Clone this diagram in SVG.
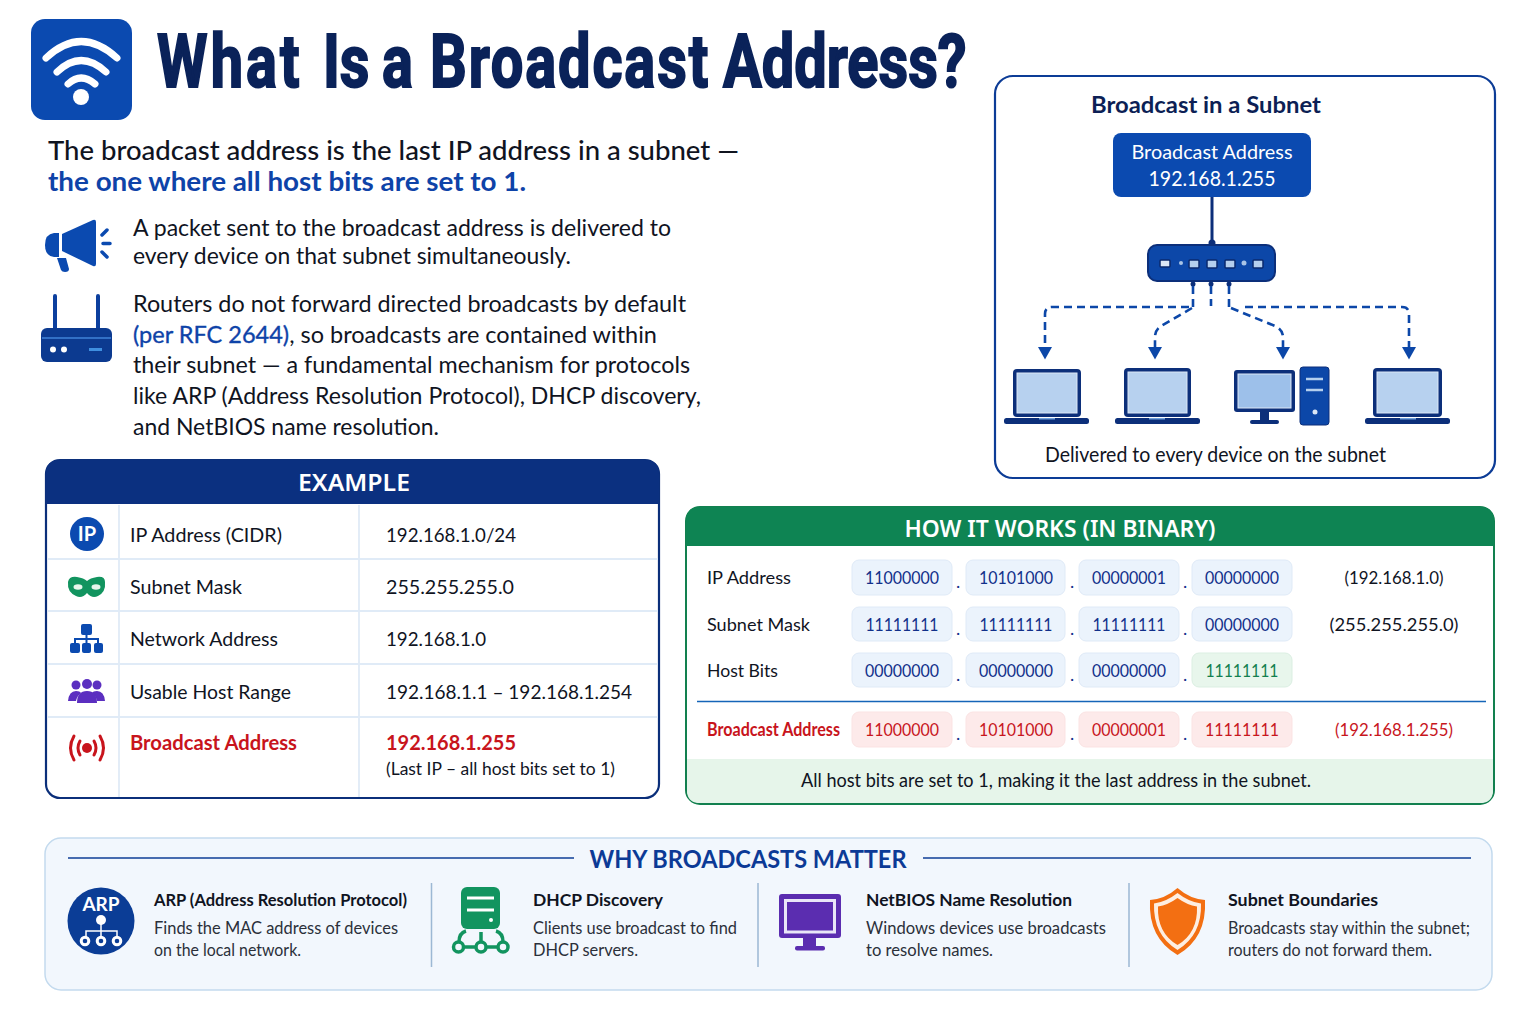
<svg xmlns="http://www.w3.org/2000/svg" width="1536" height="1024" viewBox="0 0 1536 1024">
<style>
text{font-family:"Lato","Noto Sans","Liberation Sans",sans-serif;fill:#10141f}
.title{font-family:"Roboto","Liberation Sans",sans-serif;font-weight:700;font-size:74px;fill:#0a2259;stroke:#0a2259;stroke-width:2px}
.intro{font-size:27px;font-weight:500}
.blue{fill:#0e43a8}
.med{stroke:#0e43a8;stroke-width:.35px}
.p{font-size:24px}
.th{font-family:"Noto Sans","Lato",sans-serif;font-size:24px;fill:#fff;font-weight:600;text-anchor:middle}
.tl{font-size:20px}
.red{fill:#c8141c;font-weight:700}
.lbl{font-size:18px}
.num{font-size:17.5px;fill:#12308a;text-anchor:middle}
.numr{font-size:17.5px;fill:#c8161d;text-anchor:middle}
.numg{font-size:17.5px;fill:#12804f;text-anchor:middle}
.dec{font-size:18px;text-anchor:middle}
.dot{font-size:18px;fill:#12308a;text-anchor:middle}
.hd{font-size:17.5px;font-weight:700}
.ds{font-size:16.5px;fill:#2b303a}
.cell{fill:#ebf3fc;stroke:#dfeaf7;stroke-width:1}
.cellr{fill:#fdeaea;stroke:#fbe3e3;stroke-width:1}
.cellg{fill:#e8f6ec;stroke:#dbefe2;stroke-width:1}
.grid{stroke:#e0ebf7;stroke-width:1.8;fill:none}
.dash{fill:none;stroke:#0c47a8;stroke-width:2.6;stroke-dasharray:8 5}
.frame{fill:#0c2f7a}
.scr{fill:#b7d1ef;stroke:#dbe7f6;stroke-width:1}
.base{fill:#0c2f7a}
.notch{fill:#6fa0dc}
.port{fill:#b4cfee;stroke:#0a2a6e;stroke-width:1.5}
</style>
<defs>
<marker id="ah" markerUnits="userSpaceOnUse" markerWidth="13" markerHeight="14" refX="0" refY="7" orient="auto" viewBox="0 0 13 14"><path d="M0 0L12.500 7L0 14Z" fill="#0c47a8"/></marker>
</defs>
<rect width="1536" height="1024" fill="#fff"/>

<g id="header">
<rect x="31" y="19" width="101" height="101" rx="14" fill="#0b4ab0"/>
<g fill="none" stroke="#fff" stroke-width="7" stroke-linecap="round">
<path d="M46 58Q81 25 117 58"/><path d="M57 72Q81 49 106 72"/><path d="M68 84Q81 72 95 84"/></g>
<circle cx="81" cy="97" r="8" fill="#fff"/>
<text class="title" transform="scale(.78 1)" y="87"><tspan x="201.300" letter-spacing="4">What</tspan> <tspan x="414.100">Is</tspan> <tspan x="489.700">a</tspan> <tspan x="551.300" letter-spacing="2.400">Broadcast</tspan> <tspan x="926.900">Address?</tspan></text>
</g>

<g id="intro">
<text class="intro" x="48" y="160" textLength="691" lengthAdjust="spacingAndGlyphs">The broadcast address is the last IP address in a subnet —</text>
<text class="intro blue" style="font-weight:700" x="48" y="191" textLength="478" lengthAdjust="spacingAndGlyphs">the one where all host bits are set to 1.</text>
</g>

<g id="megaphone-note">
<path d="M62 234L93 220Q96 219 96 222V264Q96 267 93 266L62 251Z" fill="#0b4ab0"/>
<path d="M59 233V257H54Q45 256 45 245Q45 234 54 233Z" fill="#0b4ab0"/>
<path d="M57 258H66L69 269Q69 272 65 272Q62 272 61 270Z" fill="#0b4ab0"/>
<g stroke="#0b4ab0" stroke-width="3.500" stroke-linecap="round"><path d="M102 235L107 230M103 243.500H110M102 252L107 257"/></g>
<text class="p" x="133" y="236" textLength="538" lengthAdjust="spacingAndGlyphs">A packet sent to the broadcast address is delivered to</text>
<text class="p" x="133" y="264" textLength="438" lengthAdjust="spacingAndGlyphs">every device on that subnet simultaneously.</text>
</g>

<g id="router-note">
<path d="M55 296V330M98 296V330" stroke="#0c3f9e" stroke-width="4" stroke-linecap="round"/>
<rect x="41" y="328" width="71" height="34" rx="6" fill="#0c3a90"/>
<path d="M42 338H111" stroke="#3f83d8" stroke-width="1.500"/>
<circle cx="53" cy="349.500" r="3" fill="#fff"/><circle cx="64" cy="349.500" r="3" fill="#fff"/>
<rect x="89" y="348" width="13" height="3" fill="#3f8fe0"/>
<text class="p" x="133" y="312" textLength="553" lengthAdjust="spacingAndGlyphs">Routers do not forward directed broadcasts by default</text>
<text class="p" x="133" y="343" textLength="524" lengthAdjust="spacingAndGlyphs"><tspan class="blue med">(per RFC 2644)</tspan>, so broadcasts are contained within</text>
<text class="p" x="133" y="373" textLength="557" lengthAdjust="spacingAndGlyphs">their subnet — a fundamental mechanism for protocols</text>
<text class="p" x="133" y="404" textLength="568" lengthAdjust="spacingAndGlyphs">like ARP (Address Resolution Protocol), DHCP discovery,</text>
<text class="p" x="133" y="435" textLength="306" lengthAdjust="spacingAndGlyphs">and NetBIOS name resolution.</text>
</g>

<g id="example-table">
<rect x="46" y="460" width="613" height="338" rx="14" fill="#fff" stroke="#0b2f7a" stroke-width="2.200"/>
<path d="M46 504V474Q46 460 60 460H645Q659 460 659 474V504Z" fill="#0b3080"/>
<text class="th" x="354" y="491" textLength="112" lengthAdjust="spacingAndGlyphs">EXAMPLE</text>
<path class="grid" d="M48 559H658M48 611H658M48 664H658M48 717H658M119 505V797M359 505V797"/>
<circle cx="87" cy="534" r="17" fill="#0b4ab0"/>
<text x="87" y="541" font-size="20" font-weight="700" text-anchor="middle" style="fill:#fff">IP</text>
<text class="tl" x="130" y="542" textLength="152" lengthAdjust="spacingAndGlyphs">IP Address (CIDR)</text>
<text class="tl" x="386" y="542" textLength="130" lengthAdjust="spacingAndGlyphs">192.168.1.0/24</text>
<path d="M68 582Q69 576 77 577Q84 578 87 581Q90 578 97 577Q105 576 105 582Q106 592 98 596Q92 599 87 593Q82 599 76 596Q67 592 68 582Z" fill="#12945f"/>
<ellipse cx="78" cy="587" rx="4.500" ry="2.800" fill="#e8f6ec"/><ellipse cx="96" cy="587" rx="4.500" ry="2.800" fill="#e8f6ec"/>
<text class="tl" x="130" y="594" textLength="112" lengthAdjust="spacingAndGlyphs">Subnet Mask</text>
<text class="tl" x="386" y="594" textLength="128" lengthAdjust="spacingAndGlyphs">255.255.255.0</text>
<g fill="#0b4ab0"><rect x="81" y="624" width="11" height="11" rx="2"/><rect x="70" y="643" width="10" height="10" rx="2"/><rect x="82" y="643" width="9" height="10" rx="2"/><rect x="94" y="643" width="9" height="10" rx="2"/></g>
<path d="M86.500 635V643M75 643V639H98V643" fill="none" stroke="#0b4ab0" stroke-width="2"/>
<text class="tl" x="130" y="646" textLength="148" lengthAdjust="spacingAndGlyphs">Network Address</text>
<text class="tl" x="386" y="646" textLength="100" lengthAdjust="spacingAndGlyphs">192.168.1.0</text>
<g fill="#5b2fc0"><circle cx="76" cy="685" r="4.500"/><circle cx="87" cy="684" r="5"/><circle cx="97" cy="685" r="4.500"/>
<path d="M68 701Q69 691 76 691Q80 691 81 693Q77 696 76 701ZM105 701Q104 691 97 691Q93 691 92 693Q96 696 97 701Z"/>
<path d="M77 703Q77 691 87 691Q97 691 97 703Z"/></g>
<text class="tl" x="130" y="699" textLength="161" lengthAdjust="spacingAndGlyphs">Usable Host Range</text>
<text class="tl" x="386" y="699" textLength="246" lengthAdjust="spacingAndGlyphs">192.168.1.1 – 192.168.1.254</text>
<circle cx="87" cy="748" r="5" fill="#c8141c"/>
<g fill="none" stroke="#c8141c" stroke-width="3" stroke-linecap="round"><path d="M80 741Q76 748 80 755M94 741Q98 748 94 755M74 736Q67 748 74 760M100 736Q107 748 100 760"/></g>
<text class="tl red" x="130" y="750" textLength="167" lengthAdjust="spacingAndGlyphs">Broadcast Address</text>
<text class="tl red" x="386" y="750" textLength="130" lengthAdjust="spacingAndGlyphs">192.168.1.255</text>
<text x="386" y="775" font-size="17" textLength="229" lengthAdjust="spacingAndGlyphs">(Last IP – all host bits set to 1)</text>
</g>

<g id="subnet-panel">
<rect x="995" y="76" width="500" height="402" rx="18" fill="#fff" stroke="#0c3c96" stroke-width="2.200"/>
<text x="1206" y="113" font-size="23" font-weight="700" text-anchor="middle" textLength="230" lengthAdjust="spacingAndGlyphs" style="fill:#0c1f55">Broadcast in a Subnet</text>
<text x="1215.500" y="462" font-size="20.500" text-anchor="middle" textLength="341" lengthAdjust="spacingAndGlyphs">Delivered to every device on the subnet</text>
</g>
<g id="broadcast-box">
<rect x="1113" y="133" width="198" height="64" rx="8" fill="#0b4ab0"/>
<text x="1212" y="159" font-size="20" text-anchor="middle" textLength="161" lengthAdjust="spacingAndGlyphs" style="fill:#fff">Broadcast Address</text>
<text x="1212" y="186" font-size="22" text-anchor="middle" textLength="127" lengthAdjust="spacingAndGlyphs" style="fill:#fff">192.168.1.255</text>
</g>
<g id="switch">
<circle cx="1212" cy="243" r="3.500" fill="#0c2f7a"/>
<rect x="1148" y="245" width="127" height="36" rx="9" fill="#0c47a8" stroke="#0c2f7a" stroke-width="2"/>
<rect class="port" x="1160" y="260" width="10" height="7" rx="1" style="fill:#dbe7f6"/><circle cx="1181" cy="263" r="2" fill="#a9c4e6"/>
<rect class="port" x="1189" y="260" width="10" height="8" rx="1"/><rect class="port" x="1207" y="260" width="10" height="8" rx="1"/><rect class="port" x="1225" y="260" width="10" height="8" rx="1"/>
<circle cx="1244" cy="263" r="2.500" fill="#a9c4e6"/><rect class="port" x="1253" y="260" width="10" height="8" rx="1"/>
<circle cx="1193" cy="284" r="2.500" fill="#0c2f7a"/><circle cx="1211" cy="284" r="2.500" fill="#0c2f7a"/><circle cx="1229" cy="284" r="2.500" fill="#0c2f7a"/>
</g>
<g id="connectors">
<path d="M1212 197V243" stroke="#0c2f7a" stroke-width="3" fill="none"/>
<path class="dash" d="M1193 286V307"/><path class="dash" d="M1211 286V306"/><path class="dash" d="M1229 286V307"/>
<path class="dash" d="M1189 307H1052Q1045 307 1045 314V347" marker-end="url(#ah)"/>
<path class="dash" d="M1192 308L1161 326Q1155 330 1155 337V347" marker-end="url(#ah)"/>
<path class="dash" d="M1231 308L1275 326Q1283 330 1283 337V347" marker-end="url(#ah)"/>
<path class="dash" d="M1245 307H1402Q1409 307 1409 314V347" marker-end="url(#ah)"/>
</g>
<g id="laptop-1"><rect class="frame" x="1013" y="369" width="68" height="48" rx="4"/><rect class="scr" x="1017" y="373" width="60" height="40"/><rect class="base" x="1004" y="418" width="85" height="6" rx="2.500"/><rect class="notch" x="1039" y="418" width="16" height="1.500"/></g>
<g id="laptop-2"><rect class="frame" x="1124" y="368" width="67" height="49" rx="4"/><rect class="scr" x="1128" y="372" width="59" height="41"/><rect class="base" x="1115" y="418" width="85" height="6" rx="2.500"/><rect class="notch" x="1149" y="418" width="16" height="1.500"/></g>
<g id="desktop"><rect class="frame" x="1234" y="370" width="61" height="42" rx="3"/><rect class="scr" x="1238" y="374" width="53" height="34" style="fill:#9dc0ea"/>
<rect class="base" x="1260" y="412" width="9" height="9"/><rect class="base" x="1250" y="420" width="29" height="4" rx="2"/>
<rect x="1300" y="367" width="29" height="58" rx="3" fill="#0c47a8" stroke="#0c2f7a" stroke-width="1"/>
<path d="M1306 379H1323M1306 390H1323" stroke="#b4cfee" stroke-width="2.500"/><circle cx="1315" cy="412" r="2.500" fill="#dbe7f6"/></g>
<g id="laptop-3"><rect class="frame" x="1373" y="368" width="69" height="49" rx="4"/><rect class="scr" x="1377" y="372" width="61" height="41"/><rect class="base" x="1365" y="418" width="85" height="6" rx="2.500"/><rect class="notch" x="1400" y="418" width="16" height="1.500"/></g>

<g id="binary-panel">
<rect x="686" y="507" width="808" height="297" rx="14" fill="#fff" stroke="#12804f" stroke-width="2"/>
<path d="M686 546V521Q686 507 700 507H1480Q1494 507 1494 521V546Z" fill="#0e8453"/>
<path d="M687 759H1493V790Q1493 803 1480 803H700Q687 803 687 790Z" fill="#e6f5ea"/>
<text class="th" x="1060" y="537" textLength="311" lengthAdjust="spacingAndGlyphs">HOW IT WORKS (IN BINARY)</text>
<text x="1056" y="787" font-size="18.500" text-anchor="middle" textLength="510" lengthAdjust="spacingAndGlyphs">All host bits are set to 1, making it the last address in the subnet.</text>
<path d="M697 701.500H1486" stroke="#1565b8" stroke-width="1.600"/>
<text class="lbl" x="707" y="584" textLength="84" lengthAdjust="spacingAndGlyphs">IP Address</text>
<text class="lbl" x="707" y="631" textLength="103" lengthAdjust="spacingAndGlyphs">Subnet Mask</text>
<text class="lbl" x="707" y="677" textLength="71" lengthAdjust="spacingAndGlyphs">Host Bits</text>
<text class="lbl red" x="707" y="736" textLength="133" lengthAdjust="spacingAndGlyphs">Broadcast Address</text>
<g>
<rect class="cell" x="852" y="560" width="100" height="35" rx="7"/><rect class="cell" x="966" y="560" width="99" height="35" rx="7"/><rect class="cell" x="1079" y="560" width="100" height="35" rx="7"/><rect class="cell" x="1192" y="560" width="100" height="35" rx="7"/>
<rect class="cell" x="852" y="607" width="100" height="34" rx="7"/><rect class="cell" x="966" y="607" width="99" height="34" rx="7"/><rect class="cell" x="1079" y="607" width="100" height="34" rx="7"/><rect class="cell" x="1192" y="607" width="100" height="34" rx="7"/>
<rect class="cell" x="852" y="653" width="100" height="34" rx="7"/><rect class="cell" x="966" y="653" width="99" height="34" rx="7"/><rect class="cell" x="1079" y="653" width="100" height="34" rx="7"/><rect class="cellg" x="1192" y="653" width="100" height="34" rx="7"/>
<rect class="cellr" x="852" y="712" width="100" height="35" rx="7"/><rect class="cellr" x="966" y="712" width="99" height="35" rx="7"/><rect class="cellr" x="1079" y="712" width="100" height="35" rx="7"/><rect class="cellr" x="1192" y="712" width="100" height="35" rx="7"/>
</g>
<g>
<text class="num" x="902" y="584" textLength="74" lengthAdjust="spacingAndGlyphs">11000000</text><text class="num" x="1016" y="584" textLength="74" lengthAdjust="spacingAndGlyphs">10101000</text><text class="num" x="1129" y="584" textLength="74" lengthAdjust="spacingAndGlyphs">00000001</text><text class="num" x="1242" y="584" textLength="74" lengthAdjust="spacingAndGlyphs">00000000</text>
<text class="num" x="902" y="631" textLength="73" lengthAdjust="spacingAndGlyphs">11111111</text><text class="num" x="1016" y="631" textLength="73" lengthAdjust="spacingAndGlyphs">11111111</text><text class="num" x="1129" y="631" textLength="73" lengthAdjust="spacingAndGlyphs">11111111</text><text class="num" x="1242" y="631" textLength="74" lengthAdjust="spacingAndGlyphs">00000000</text>
<text class="num" x="902" y="677" textLength="74" lengthAdjust="spacingAndGlyphs">00000000</text><text class="num" x="1016" y="677" textLength="74" lengthAdjust="spacingAndGlyphs">00000000</text><text class="num" x="1129" y="677" textLength="74" lengthAdjust="spacingAndGlyphs">00000000</text><text class="numg" x="1242" y="677" textLength="73" lengthAdjust="spacingAndGlyphs">11111111</text>
<text class="numr" x="902" y="736" textLength="74" lengthAdjust="spacingAndGlyphs">11000000</text><text class="numr" x="1016" y="736" textLength="74" lengthAdjust="spacingAndGlyphs">10101000</text><text class="numr" x="1129" y="736" textLength="74" lengthAdjust="spacingAndGlyphs">00000001</text><text class="numr" x="1242" y="736" textLength="74" lengthAdjust="spacingAndGlyphs">11111111</text>
</g>
<g>
<text class="dot" x="958" y="588">.</text><text class="dot" x="1072" y="588">.</text><text class="dot" x="1185" y="588">.</text>
<text class="dot" x="958" y="635">.</text><text class="dot" x="1072" y="635">.</text><text class="dot" x="1185" y="635">.</text>
<text class="dot" x="958" y="681">.</text><text class="dot" x="1072" y="681">.</text><text class="dot" x="1185" y="681">.</text>
<text class="dot" x="958" y="740">.</text><text class="dot" x="1072" y="740">.</text><text class="dot" x="1185" y="740">.</text>
</g>
<text class="dec" x="1394" y="584" textLength="99" lengthAdjust="spacingAndGlyphs">(192.168.1.0)</text>
<text class="dec" x="1394" y="631" textLength="129" lengthAdjust="spacingAndGlyphs">(255.255.255.0)</text>
<text class="dec" x="1394" y="736" textLength="118" lengthAdjust="spacingAndGlyphs" style="fill:#c8161d">(192.168.1.255)</text>
</g>

<g id="why-panel">
<rect x="45" y="838" width="1447" height="152" rx="16" fill="#f2f7fd" stroke="#c3daee" stroke-width="1.500"/>
<path d="M68 858H574M923 858H1471" stroke="#0f3f96" stroke-width="1.500"/>
<text x="748" y="868" font-size="25" font-weight="700" text-anchor="middle" textLength="317" lengthAdjust="spacingAndGlyphs" style="fill:#0c3a96">WHY BROADCASTS MATTER</text>
<path d="M431.500 883V967M758 883V967M1129 883V967" stroke="#9cb8d4" stroke-width="1.500"/>
</g>
<g id="why-arp">
<circle cx="101" cy="921" r="33.500" fill="#0b3d96"/>
<text x="101" y="911" font-size="19" font-weight="700" text-anchor="middle" style="fill:#fff">ARP</text>
<circle cx="101" cy="920" r="5" fill="#fff"/>
<path d="M101 924V930M86 940V931H117V940M101 930V940" fill="none" stroke="#fff" stroke-width="1.500"/>
<g fill="#0b3d96" stroke="#fff" stroke-width="3"><circle cx="85" cy="941" r="3.800"/><circle cx="101" cy="941" r="3.800"/><circle cx="117" cy="941" r="3.800"/></g>
<text class="hd" x="154" y="906" textLength="253" lengthAdjust="spacingAndGlyphs">ARP (Address Resolution Protocol)</text>
<text class="ds" x="154" y="934" textLength="244" lengthAdjust="spacingAndGlyphs">Finds the MAC address of devices</text>
<text class="ds" x="154" y="956" textLength="147" lengthAdjust="spacingAndGlyphs">on the local network.</text>
</g>
<g id="why-dhcp">
<rect x="461" y="887" width="39" height="42" rx="6" fill="#12945f"/>
<path d="M467 898H494M467 910H494" stroke="#fff" stroke-width="3"/><circle cx="491" cy="920" r="2" fill="#fff"/>
<g fill="none" stroke="#12945f" stroke-width="3.500"><circle cx="458.500" cy="947" r="5"/><circle cx="481" cy="947" r="5"/><circle cx="503" cy="947" r="5"/>
<path d="M463.500 947H476M486 947H498M481 932V942M466 931Q459 933 459 942M496 931Q503 933 503 942"/></g>
<text class="hd" x="533" y="906" textLength="130" lengthAdjust="spacingAndGlyphs">DHCP Discovery</text>
<text class="ds" x="533" y="934" textLength="204" lengthAdjust="spacingAndGlyphs">Clients use broadcast to find</text>
<text class="ds" x="533" y="956" textLength="105" lengthAdjust="spacingAndGlyphs">DHCP servers.</text>
</g>
<g id="why-netbios">
<rect x="779" y="894" width="62" height="44" rx="3" fill="#5b2db0"/>
<rect x="785.500" y="900.500" width="49" height="31.500" fill="#5b2db0" stroke="#e9e6f8" stroke-width="3"/>
<rect x="803" y="938" width="13" height="9" fill="#5b2db0"/><rect x="795" y="946" width="30" height="4.500" rx="2" fill="#5b2db0"/>
<text class="hd" x="866" y="906" textLength="206" lengthAdjust="spacingAndGlyphs">NetBIOS Name Resolution</text>
<text class="ds" x="866" y="934" textLength="240" lengthAdjust="spacingAndGlyphs">Windows devices use broadcasts</text>
<text class="ds" x="866" y="956" textLength="127" lengthAdjust="spacingAndGlyphs">to resolve names.</text>
</g>
<g id="why-subnet">
<path d="M1177.500 888Q1190 899 1205 900Q1207 938 1177.500 955Q1148 938 1150 900Q1165 899 1177.500 888Z" fill="#f36f12"/>
<path d="M1177.500 893Q1189 902 1201 903.500Q1202 935 1177.500 950Q1153 935 1154 903.500Q1166 902 1177.500 893Z" fill="#fdeee2"/>
<path d="M1177.500 898Q1187 905 1197 906.500Q1198 933 1177.500 945Q1157 933 1158 906.500Q1168 905 1177.500 898Z" fill="#f36f12"/>
<text class="hd" x="1228" y="906" textLength="150" lengthAdjust="spacingAndGlyphs">Subnet Boundaries</text>
<text class="ds" x="1228" y="934" textLength="242" lengthAdjust="spacingAndGlyphs">Broadcasts stay within the subnet;</text>
<text class="ds" x="1228" y="956" textLength="204" lengthAdjust="spacingAndGlyphs">routers do not forward them.</text>
</g>
</svg>
